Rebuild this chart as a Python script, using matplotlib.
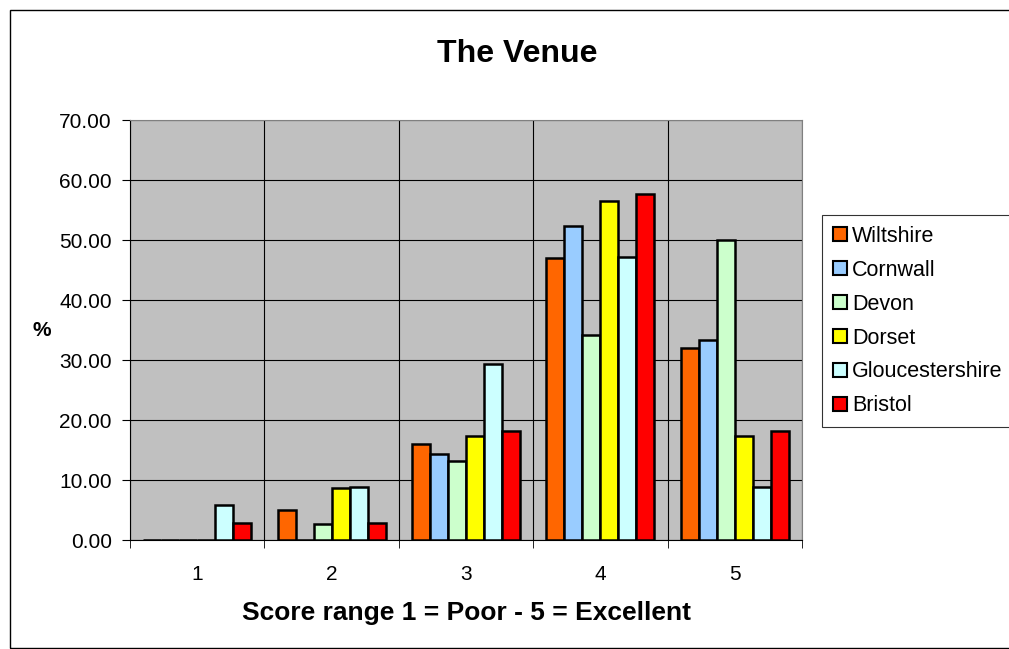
import matplotlib.pyplot as plt
import numpy as np
from matplotlib.patches import Rectangle

plt.rcParams['font.family'] = ['Liberation Sans', 'DejaVu Sans']

# Dane
kategorie = ['1', '2', '3', '4', '5']
serie = ['Wiltshire', 'Cornwall', 'Devon', 'Dorset', 'Gloucestershire', 'Bristol']
wiltshire = [0, 5.0, 16.0, 47.0, 32.0]
cornwall = [0, 0, 14.3, 52.4, 33.3]
devon = [0, 2.6, 13.1, 34.2, 50.0]
dorset = [0, 8.6, 17.4, 56.5, 17.4]
gloucestershire = [5.9, 8.8, 29.4, 47.1, 8.8]
bristol = [2.9, 2.9, 18.2, 57.6, 18.2]
wartosci = [wiltshire, cornwall, devon, dorset, gloucestershire, bristol]
kolory = ['#FF6600', '#99CCFF', '#CCFFCC', '#FFFF00', '#CCFFFF', '#FF0000']

fig = plt.figure(figsize=(10.09, 6.49), dpi=100)
ax = fig.add_axes([130 / 1009, 1 - 540 / 649, 672 / 1009, 420 / 649])
ax.set_facecolor('#C0C0C0')

x = np.arange(1, len(kategorie) + 1)
szer = 0.134
for i, (nazwa, y) in enumerate(zip(serie, wartosci)):
    pos = x + (i - 2.5) * szer
    ax.bar(pos, y, width=szer, color=kolory[i], edgecolor='black', linewidth=1.8,
           label=nazwa, zorder=3)

ax.set_xlim(0.5, 5.5)
ax.set_ylim(0, 70)
ax.set_yticks(np.arange(0, 71, 10))
ax.set_yticklabels([f'{v:.2f}' for v in np.arange(0, 71, 10)], fontsize=15)
ax.set_xticks(x)
ax.set_xticklabels(kategorie, fontsize=15)
ax.tick_params(axis='x', length=0, pad=18)
ax.set_xticks(np.arange(0.5, 5.6, 1), minor=True)
ax.tick_params(axis='x', which='minor', length=6, direction='out')
ax.tick_params(axis='y', length=6, direction='out', pad=7)
ax.grid(True, axis='y', color='black', linewidth=0.8, zorder=0)
ax.grid(True, axis='x', which='minor', color='black', linewidth=0.8, zorder=0)
ax.set_axisbelow(True)
for s in ['top', 'right']:
    ax.spines[s].set_color('#808080')
for s in ['left', 'bottom']:
    ax.spines[s].set_color('black')

fig.text(517 / 1009, 1 - 54 / 649, 'The Venue', fontsize=23, fontweight='bold',
         ha='center', va='center')
fig.text(42 / 1009, 1 - 330 / 649, '%', fontsize=15, fontweight='bold',
         ha='center', va='center')
fig.text(466 / 1009, 1 - 613 / 649, 'Score range 1 = Poor - 5 = Excellent',
         fontsize=19, fontweight='bold', ha='center', va='center')

leg = fig.legend(loc='upper left', bbox_to_anchor=(822 / 1009, 1 - 215 / 649),
                 fontsize=15.5, frameon=True, fancybox=False, edgecolor='black',
                 handlelength=0.65, handleheight=0.65, handletextpad=0.25,
                 labelspacing=0.6, borderpad=0.5, borderaxespad=0)
leg.get_frame().set_linewidth(0.8)
for h in leg.legend_handles:
    h.set_linewidth(1.5)

fig.patches.append(Rectangle((10 / 1009, 0.002), 1.2, 1 - 10 / 649 - 0.002,
                             transform=fig.transFigure, fill=False,
                             edgecolor='black', linewidth=1))

fig.savefig('out.png', dpi=100)
